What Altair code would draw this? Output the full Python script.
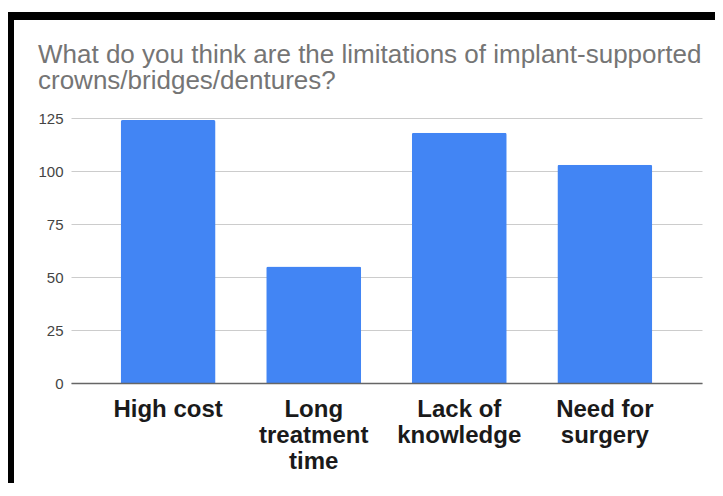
import json
import altair as alt
import pandas as pd

# ---- data ----
categories = ["High cost", "Long treatment time", "Lack of knowledge", "Need for surgery"]
counts = [124, 55, 118, 103]
label_lines = [["High cost"], ["Long", "treatment", "time"], ["Lack of", "knowledge"], ["Need for", "surgery"]]
y_ticks = [0, 25, 50, 75, 100, 125]
title_lines = ["What do you think are the limitations of implant-supported",
               "crowns/bridges/dentures?"]

df = pd.DataFrame({"category": categories, "count": counts})

# multi-line x labels
label_expr = "datum.label"
for cat, lines in reversed(list(zip(categories, label_lines))):
    label_expr = f"datum.label == {json.dumps(cat)} ? {json.dumps(lines)} : ({label_expr})"

FONT = "Liberation Sans"

bars = alt.Chart(df).mark_bar(
    color="#4285F4", cornerRadiusTopLeft=2, cornerRadiusTopRight=2
).encode(
    x=alt.X(
        "category:N",
        sort=categories,
        scale=alt.Scale(paddingInner=0.3475, paddingOuter=0.341),
        axis=alt.Axis(
            title=None, labelAngle=0, labelFont=FONT, labelFontSize=24,
            labelFontWeight="bold", labelColor="#1a1a1a", labelLineHeight=26,
            labelPadding=14, ticks=False, domainColor="#666666", domainWidth=1.5,
            labelExpr=label_expr, labelLimit=0, grid=False, zindex=1,
        ),
    ),
    y=alt.Y(
        "count:Q",
        scale=alt.Scale(domain=[0, 125], nice=False),
        axis=alt.Axis(
            title=None, values=y_ticks, domain=False, ticks=False,
            labelFont=FONT, labelFontSize=15, labelColor="#444444",
            labelPadding=8, gridColor="#cccccc", gridWidth=1,
        ),
    ),
)

frame_df = pd.DataFrame({"k": [0]})
top_bar = alt.Chart(frame_df).mark_rule(color="black", strokeWidth=8).encode(
    x=alt.value(-70), x2=alt.value(660), y=alt.value(-102)
)
left_bar = alt.Chart(frame_df).mark_rule(color="black", strokeWidth=8).encode(
    x=alt.value(-61), y=alt.value(-106), y2=alt.value(380)
)

chart = alt.layer(bars, top_bar, left_bar).properties(
    width=631,
    height=265,
    autosize="none",
    padding={"left": 63, "top": 110, "right": 13, "bottom": 100},
    title=alt.TitleParams(
        text=title_lines, anchor="start", dx=41, offset=-86, font=FONT,
        fontSize=26, fontWeight="normal", color="#757575", lineHeight=26,
    ),
).configure_view(stroke=None)

chart.save("out.html", embed_options={"renderer": "svg", "actions": False})
